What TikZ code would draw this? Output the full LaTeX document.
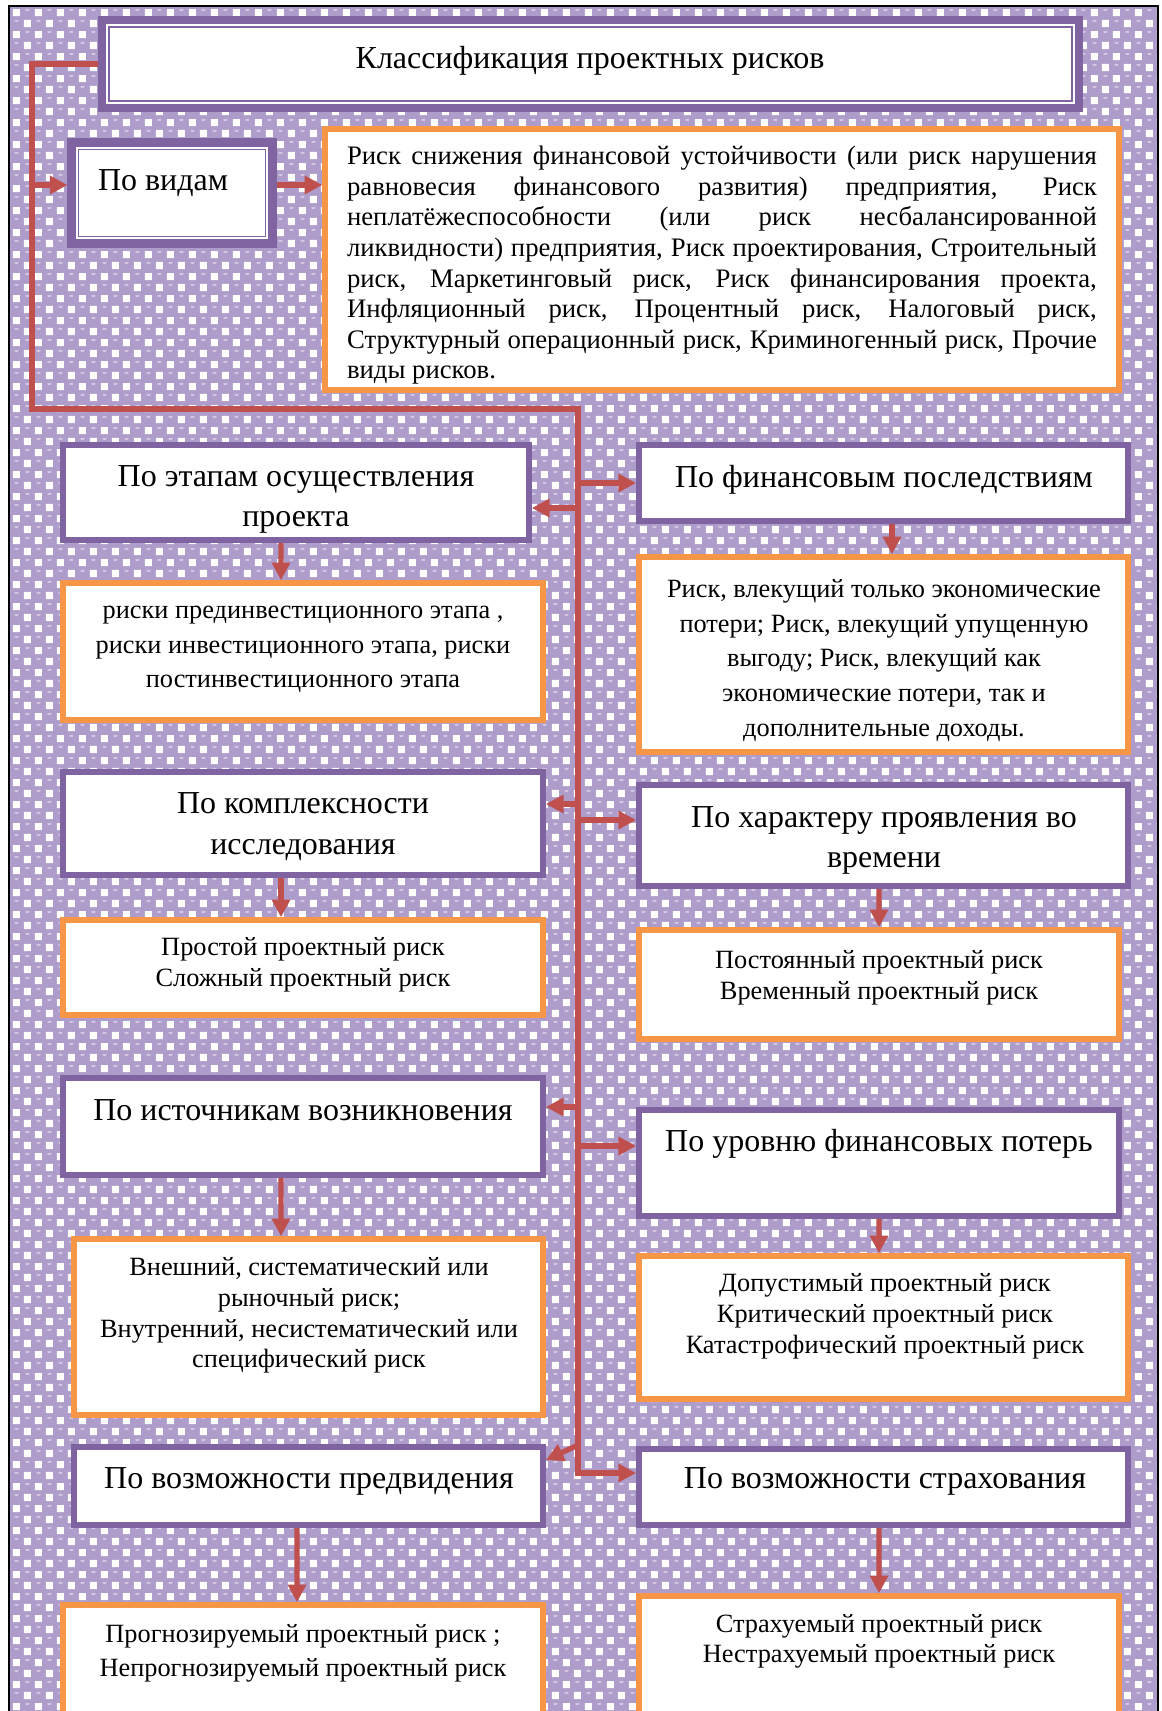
\documentclass[tikz,border=0pt]{standalone}
\usepackage{fontspec}
\setmainfont{Liberation Serif}
\usetikzlibrary{calc,arrows.meta,patterns}

\definecolor{vpurple}{HTML}{8064A2}
\definecolor{vorange}{HTML}{F79646}
\definecolor{vred}{HTML}{C0504D}
\definecolor{bgpurple}{HTML}{AE9CCA}
\definecolor{bglight}{HTML}{D2C8E2}

% checkered spheres for the page background
\pgfdeclarepatternformonly{gaps}{\pgfpoint{0pt}{0pt}}{\pgfpoint{12.5pt}{12.5pt}}{\pgfpoint{12.5pt}{12.5pt}}{
  \pgfpathrectangle{\pgfpoint{7.4pt}{1.1pt}}{\pgfpoint{4pt}{4pt}}
  \pgfpathrectangle{\pgfpoint{1.1pt}{7.4pt}}{\pgfpoint{4pt}{4pt}}
  \pgfusepath{fill}
}
\pgfdeclarepatternformonly{shine}{\pgfpoint{0pt}{0pt}}{\pgfpoint{12.5pt}{12.5pt}}{\pgfpoint{12.5pt}{12.5pt}}{
  \pgfpathellipse{\pgfpoint{3.1pt}{4.6pt}}{\pgfpoint{1.3pt}{0pt}}{\pgfpoint{0pt}{0.6pt}}
  \pgfpathellipse{\pgfpoint{9.4pt}{10.9pt}}{\pgfpoint{1.3pt}{0pt}}{\pgfpoint{0pt}{0.6pt}}
  \pgfusepath{fill}
}

\tikzset{
  pbox/.style={draw=vpurple, line width=3.4pt, fill=white, inner sep=0pt},
  dbox/.style={draw=vpurple, line width=4.6pt, fill=white, inner sep=0pt},
  obox/.style={draw=vorange, line width=3.2pt, fill=white, inner sep=0pt},
  head/.style={font=\fontsize{18.2}{23.2}\selectfont, align=center, inner sep=0pt, yshift=-1.9pt},
  body/.style={font=\fontsize{15}{17.6}\selectfont, align=center, inner sep=0pt, yshift=-1.9pt},
  bodyl/.style={font=\fontsize{15}{19.8}\selectfont, align=center, inner sep=0pt, yshift=-1.9pt},
  link/.style={draw=vred, line width=3pt, -{Triangle[length=10pt,width=10pt]}},
}

\begin{document}
\begin{tikzpicture}[x=0.02cm, y=-0.02cm]
    \useasboundingbox (0,0) rectangle (1162,1711);
    \clip (0,0) rectangle (1162,1711);

    % background
    \fill[bgpurple] (10,7) rectangle (1157,1740);
    \fill[pattern=gaps, pattern color=white] (10,7) rectangle (1157,1740);
    \fill[pattern=shine, pattern color=bglight] (10,7) rectangle (1157,1740);
    \draw[line width=1.1pt] (9,6) rectangle (1158,1740);

    % title and first group
    \node[dbox, minimum width=19.54cm, minimum height=1.76cm] (title) at (590.5,64) {};
    \draw[vpurple, line width=0.9pt] ($(title.north west)+(11,11)$) rectangle ($(title.south east)+(-11,-11)$);
    \node[head] (titleT) at (590,57) {Классификация проектных рисков};

    \node[dbox, minimum width=4.02cm, minimum height=2.02cm] (vid) at (172,193) {};
    \draw[vpurple, line width=0.9pt] ($(vid.north west)+(11,11)$) rectangle ($(vid.south east)+(-11,-11)$);
    \node[head] (vidT) at (163,180) {По видам};

    \node[obox, minimum width=15.88cm, minimum height=5.22cm] (vidy) at (722,259.5) {};
    \node[font=\fontsize{15.2}{17.4}\selectfont, align=left, inner sep=0pt, yshift=-1.9pt] (vidyT) at (722,262) {%
      \makebox[15cm][s]{Риск снижения финансовой устойчивости (или риск нарушения}\\
      \makebox[15cm][s]{равновесия финансового развития) предприятия, Риск}\\
      \makebox[15cm][s]{неплатёжеспособности (или риск несбалансированной}\\
      \makebox[15cm][s]{ликвидности) предприятия, Риск проектирования, Строительный}\\
      \makebox[15cm][s]{риск, Маркетинговый риск, Риск финансирования проекта,}\\
      \makebox[15cm][s]{Инфляционный риск, Процентный риск, Налоговый риск,}\\
      \makebox[15cm][s]{Структурный операционный риск, Криминогенный риск, Прочие}\\
      \makebox[15cm][l]{виды рисков.}};

    % left column
    \node[pbox, minimum width=9.32cm, minimum height=1.9cm] (etap) at (296,492.5) {};
    \node[head] (etapT) at (296,496) {По этапам осуществления\\ проекта};
    \node[obox, minimum width=9.6cm, minimum height=2.74cm] (etapV) at (303,651.5) {};
    \node[bodyl] (etapVT) at (303,646) {риски прединвестиционного этапа ,\\ риски инвестиционного этапа, риски\\ постинвестиционного этапа};

    \node[pbox, minimum width=9.6cm, minimum height=2.06cm] (kompl) at (303,823.5) {};
    \node[head] (komplT) at (303,823) {По комплексности\\ исследования};
    \node[obox, minimum width=9.6cm, minimum height=1.9cm] (komplV) at (303,967.5) {};
    \node[body] (komplVT) at (303,961) {Простой проектный риск\\ Сложный проектный риск};

    \node[pbox, minimum width=9.6cm, minimum height=1.94cm] (istoch) at (303,1126.5) {};
    \node[head] (istochT) at (303,1107) {По источникам возникновения};
    \node[obox, minimum width=9.38cm, minimum height=3.52cm] (istochV) at (308.5,1327) {};
    \node[body] (istochVT) at (309,1312) {Внешний, систематический или\\ рыночный риск;\\ Внутренний, несистематический или\\ специфический риск};

    \node[pbox, minimum width=9.38cm, minimum height=1.56cm] (predv) at (308.5,1486) {};
    \node[head] (predvT) at (309,1478) {По возможности предвидения};
    \node[obox, minimum width=9.6cm, minimum height=2.5cm] (predvV) at (303,1667.5) {};
    \node[bodyl] (predvVT) at (303,1650) {Прогнозируемый проектный риск ;\\ Непрогнозируемый проектный риск};

    % right column
    \node[pbox, minimum width=9.78cm, minimum height=1.52cm] (fin) at (883.5,483) {};
    \node[head] (finT) at (884,476) {По финансовым последствиям};
    \node[obox, minimum width=9.78cm, minimum height=3.9cm] (finV) at (883.5,654.5) {};
    \node[bodyl] (finVT) at (884,657) {Риск, влекущий только экономические\\ потери; Риск, влекущий упущенную\\ выгоду; Риск, влекущий как\\ экономические потери, так и\\ дополнительные доходы.};

    \node[pbox, minimum width=9.78cm, minimum height=2.02cm] (vrem) at (883.5,835.5) {};
    \node[head] (vremT) at (884,837) {По характеру проявления во\\ времени};
    \node[obox, minimum width=9.6cm, minimum height=2.18cm] (vremV) at (879,984.5) {};
    \node[body] (vremVT) at (879,974) {Постоянный проектный риск\\ Временный проектный риск};

    \node[pbox, minimum width=9.6cm, minimum height=2.12cm] (urov) at (879,1163) {};
    \node[head] (urovT) at (879,1141) {По уровню финансовых потерь};
    \node[obox, minimum width=9.78cm, minimum height=2.86cm] (urovV) at (883.5,1327.5) {};
    \node[body] (urovVT) at (885,1313) {Допустимый проектный риск\\ Критический проектный риск\\ Катастрофический проектный риск};

    \node[pbox, minimum width=9.78cm, minimum height=1.52cm] (strah) at (883.5,1487) {};
    \node[head] (strahT) at (885,1478) {По возможности страхования};
    \node[obox, minimum width=9.6cm, minimum height=2.68cm] (strahV) at (879,1663) {};
    \node[body] (strahVT) at (879,1638) {Страхуемый проектный риск\\ Нестрахуемый проектный риск};

    % main line
    \coordinate (lCorner) at (32,409);
    \coordinate (tTop) at (578,409);
    \coordinate (tBot) at (578,1473);
    \draw[link] (title.west) -| (lCorner) -- (tTop) -- (tBot) -- (tBot -| strah.west);

    \coordinate (vidIn) at ($(vid.west)+(0,-8)$);
    \draw[link] (vidIn -| lCorner) -- (vidIn);
    \draw[link] (vidIn -| vid.east) -- (vidIn -| vidy.west);

    % branches off the main line
    \draw[link] (tTop |- fin.west) -- (fin.west);
    \coordinate (etapIn) at ($(etap.east)+(0,15.5)$);
    \draw[link] (etapIn -| tTop) -- (etapIn);
    \coordinate (komplIn) at ($(kompl.east)+(0,-19.5)$);
    \draw[link] (komplIn -| tTop) -- (komplIn);
    \coordinate (vremIn) at ($(vrem.west)+(0,-15.5)$);
    \draw[link] (vremIn -| tTop) -- (vremIn);
    \coordinate (istochIn) at ($(istoch.east)+(0,-19.5)$);
    \draw[link] (istochIn -| tTop) -- (istochIn);
    \coordinate (urovIn) at ($(urov.west)+(0,-17)$);
    \draw[link] (urovIn -| tTop) -- (urovIn);
    \coordinate (predvIn) at ($(predv.north east)+(0,16)$);
    \draw[link] ($(predvIn -| tTop)+(0,-15)$) -- (predvIn);

    % down arrows
    \draw[link] ([xshift=-0.3cm]etap.south) -- ([xshift=-0.44cm]etapV.north);
    \draw[link] ([xshift=-0.44cm]kompl.south) -- ([xshift=-0.44cm]komplV.north);
    \draw[link] ([xshift=-0.44cm]istoch.south) -- ([xshift=-0.55cm]istochV.north);
    \draw[link] ([xshift=-0.23cm]predv.south) -- ([xshift=-0.12cm]predvV.north);
    \draw[link] ([xshift=0.17cm]fin.south) -- ([xshift=0.17cm]finV.north);
    \draw[link] ([xshift=-0.09cm]vrem.south) -- (vremV.north);
    \draw[link] (urov.south) -- ([xshift=-0.09cm]urovV.north);
    \draw[link] ([xshift=-0.09cm]strah.south) -- (strahV.north);
\end{tikzpicture}
\end{document}
